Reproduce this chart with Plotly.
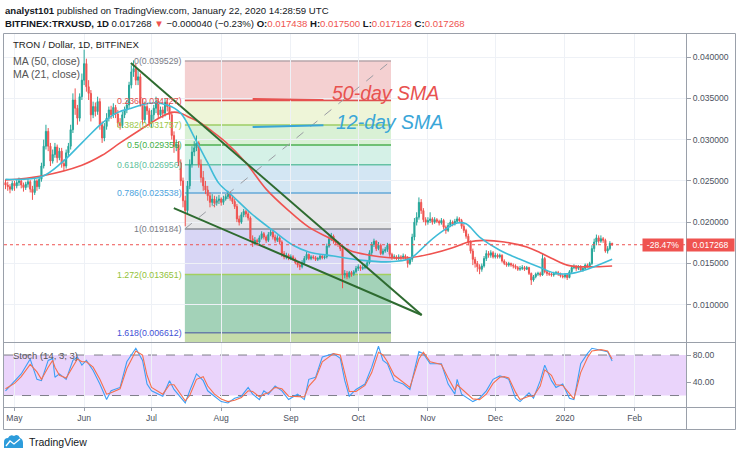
import plotly.graph_objects as go
import pandas as pd

W, H = 740, 457


def px(x):
    return x / W


def py(y):
    return 1 - y / H


# ---------------- data ----------------
date_start, date_end = "2019-04-27", "2020-01-22"

opens = [
    .0248, .0245, .0243, .0240,
    .0247, .0244, .0248, .0250, .0245, .0242, .0246, .0249, .0240, .0236, .0250, .0243, .0252, .0268, .0292, .0310,
    .0292, .0274, .0282, .0291, .0278, .0286, .0271, .0268, .0284, .0292, .0312, .0348, .0338, .0326, .0352,
    .0372, .0392, .0364, .0356, .0330, .0340, .0334, .0346, .0318, .0302, .0316, .0326, .0336, .0330, .0339,
    .0331, .0320, .0317, .0330, .0336, .0342, .0366, .0382, .0386, .0372, .0376, .0344, .0324, .0340, .0335,
    .0320, .0330, .0338, .0346, .0330, .0336, .0332, .0345, .0340, .0330, .0305, .0292, .0294, .0272, .0250,
    .0226, .0214, .0244, .0270, .0285, .0290, .0296, .0270, .0254, .0244, .0239, .0232, .0224, .0228, .0223, .0226,
    .0228, .0224, .0228, .0231, .0235, .0229, .0225, .0219, .0204, .0200, .0209, .0213, .0210, .0205, .0180,
    .0174, .0178, .0176, .0181, .0186, .0182, .0178, .0185, .0188, .0182, .0178, .0181, .0176, .0162, .0158, .0160,
    .0157, .0158, .0155, .0151, .0148, .0146, .0151, .0156, .0161, .0156, .0158, .0157, .0155, .0156, .0159,
    .0157, .0158, .0171, .0180, .0183, .0177, .0175, .0173, .0168, .0136, .0138, .0134, .0139, .0137, .0140,
    .0144, .0146, .0144, .0145, .0147, .0151, .0163, .0173, .0177, .0168, .0172, .0162, .0165, .0167, .0172,
    .0161, .0157, .0158, .0156, .0158, .0157, .0159, .0157, .0150, .0155, .0182, .0200, .0206, .0224, .0214, .0203,
    .0200, .0202, .0204, .0200, .0203, .0201, .0199, .0202, .0194, .0190, .0196, .0200, .0198, .0201, .0204,
    .0202, .0195, .0190, .0183, .0176, .0165, .0155, .0150, .0146, .0143, .0147, .0156, .0162, .0160, .0163,
    .0158, .0160, .0158, .0160, .0153, .0150, .0148, .0150, .0148, .0147, .0145, .0143, .0144, .0145, .0143,
    .0145, .0138, .0130, .0134, .0137, .0138, .0136, .0156, .0140, .0138, .0137, .0136, .0138, .0139, .0137, .0135,
    .0134, .0136, .0133, .0140, .0145, .0146, .0144, .0146, .0142, .0144, .0148, .0147, .0150, .0168, .0176,
    .0181, .0177, .0180, .0178, .0165, .0168, .017438,
]
highs = [
    .0252, .0249, .0246, .0250,
    .0250, .0252, .0254, .0252, .0248, .0249, .0253, .0251, .0244, .0253, .0252, .0256, .0272, .0300, .0318, .0314,
    .0296, .0288, .0296, .0294, .0290, .0290, .0276, .0288, .0296, .0318, .0356, .0362, .0342, .0356, .0380,
    .0409, .0398, .0372, .0360, .0346, .0345, .0352, .0350, .0322, .0320, .0332, .0340, .0341, .0344, .0342,
    .0336, .0326, .0334, .0340, .0348, .0370, .0390, .0396, .0392, .0384, .0380, .0350, .0346, .0344, .0338,
    .0336, .0342, .0352, .0350, .0340, .0340, .0350, .0350, .0344, .0334, .0310, .0300, .0298, .0276, .0254,
    .0232, .0250, .0276, .0292, .0298, .0305, .0298, .0276, .0262, .0250, .0244, .0236, .0234, .0232, .0231, .0233,
    .0230, .0232, .0234, .0238, .0237, .0232, .0228, .0222, .0208, .0212, .0216, .0215, .0213, .0207, .0184,
    .0182, .0180, .0184, .0189, .0188, .0184, .0188, .0191, .0190, .0185, .0184, .0183, .0178, .0165, .0163, .0162,
    .0161, .0160, .0157, .0153, .0150, .0154, .0159, .0164, .0162, .0160, .0160, .0159, .0158, .0161, .0160,
    .0160, .0174, .0184, .0187, .0185, .0179, .0177, .0175, .0170, .0142, .0141, .0141, .0141, .0142, .0147,
    .0149, .0148, .0148, .0150, .0154, .0166, .0176, .0180, .0178, .0176, .0174, .0168, .0170, .0175, .0174,
    .0163, .0161, .0160, .0161, .0160, .0162, .0161, .0159, .0158, .0186, .0205, .0212, .0230, .0228, .0217, .0206,
    .0206, .0212, .0206, .0206, .0205, .0203, .0205, .0204, .0196, .0199, .0203, .0202, .0204, .0207, .0206,
    .0204, .0198, .0192, .0186, .0178, .0168, .0158, .0153, .0149, .0150, .0159, .0166, .0165, .0166, .0165,
    .0163, .0162, .0162, .0161, .0155, .0152, .0152, .0151, .0150, .0149, .0147, .0147, .0148, .0147, .0147,
    .0146, .0139, .0136, .0139, .0140, .0140, .0162, .0158, .0142, .0140, .0139, .0140, .0141, .0141, .0139, .0137,
    .0138, .0138, .0142, .0147, .0149, .0148, .0148, .0148, .0146, .0150, .0150, .0152, .0172, .0180, .0185,
    .0184, .0184, .0182, .0180, .0171, .0177, .0175,
]
lows = [
    .0240, .0238, .0235, .0238,
    .0238, .0241, .0244, .0241, .0237, .0239, .0242, .0236, .0227, .0233, .0238, .0240, .0249, .0265, .0288, .0286,
    .0268, .0271, .0278, .0272, .0275, .0266, .0262, .0265, .0280, .0288, .0308, .0330, .0318, .0322, .0348,
    .0366, .0358, .0348, .0322, .0326, .0328, .0330, .0312, .0296, .0298, .0312, .0322, .0325, .0326, .0326,
    .0315, .0312, .0314, .0326, .0332, .0338, .0362, .0376, .0366, .0366, .0340, .0318, .0320, .0330, .0316,
    .0314, .0324, .0332, .0326, .0326, .0326, .0328, .0334, .0324, .0300, .0284, .0286, .0268, .0244, .0218,
    .0195, .0210, .0240, .0266, .0280, .0286, .0266, .0248, .0238, .0234, .0226, .0218, .0220, .0218, .0220, .0222,
    .0220, .0221, .0226, .0228, .0226, .0222, .0216, .0200, .0196, .0198, .0206, .0206, .0202, .0176, .0170,
    .0172, .0172, .0174, .0179, .0179, .0175, .0176, .0183, .0179, .0175, .0176, .0173, .0158, .0155, .0155, .0154,
    .0154, .0153, .0149, .0145, .0142, .0144, .0149, .0154, .0154, .0154, .0155, .0153, .0153, .0154, .0155,
    .0155, .0156, .0169, .0177, .0174, .0172, .0170, .0165, .0120, .0132, .0131, .0132, .0134, .0135, .0138,
    .0141, .0141, .0142, .0143, .0145, .0149, .0160, .0170, .0165, .0166, .0160, .0160, .0163, .0164, .0158,
    .0154, .0155, .0154, .0154, .0154, .0155, .0154, .0145, .0148, .0152, .0178, .0196, .0203, .0210, .0200, .0196,
    .0197, .0199, .0197, .0198, .0199, .0196, .0197, .0191, .0186, .0188, .0194, .0195, .0196, .0199, .0199,
    .0192, .0187, .0180, .0172, .0162, .0148, .0145, .0140, .0137, .0140, .0145, .0153, .0157, .0157, .0156,
    .0156, .0156, .0156, .0151, .0148, .0146, .0146, .0146, .0144, .0143, .0141, .0141, .0142, .0141, .0142,
    .0136, .0124, .0128, .0132, .0135, .0134, .0135, .0138, .0135, .0135, .0134, .0134, .0136, .0135, .0133, .0132,
    .0132, .0130, .0132, .0138, .0143, .0141, .0142, .0140, .0140, .0142, .0145, .0145, .0148, .0164, .0172,
    .0174, .0175, .0175, .0163, .0162, .0166, .017128,
]
closes = [
    .0245, .0243, .0240, .0247,
    .0244, .0248, .0250, .0245, .0242, .0246, .0249, .0240, .0236, .0250, .0243, .0252, .0268, .0292, .0310, .0292,
    .0274, .0282, .0291, .0278, .0286, .0271, .0268, .0284, .0292, .0312, .0348, .0338, .0326, .0352, .0372,
    .0392, .0364, .0356, .0330, .0340, .0334, .0346, .0318, .0302, .0316, .0326, .0336, .0330, .0339, .0331,
    .0320, .0317, .0330, .0336, .0342, .0366, .0382, .0386, .0372, .0376, .0344, .0324, .0340, .0335, .0320,
    .0330, .0338, .0346, .0330, .0336, .0332, .0345, .0340, .0330, .0305, .0292, .0294, .0272, .0250, .0226,
    .0214, .0244, .0270, .0285, .0290, .0296, .0270, .0254, .0244, .0239, .0232, .0224, .0228, .0223, .0226, .0228,
    .0224, .0228, .0231, .0235, .0229, .0225, .0219, .0204, .0200, .0209, .0213, .0210, .0205, .0180, .0174,
    .0178, .0176, .0181, .0186, .0182, .0178, .0185, .0188, .0182, .0178, .0181, .0176, .0162, .0158, .0160, .0157,
    .0158, .0155, .0151, .0148, .0146, .0151, .0156, .0161, .0156, .0158, .0157, .0155, .0156, .0159, .0157,
    .0158, .0171, .0180, .0183, .0177, .0175, .0173, .0168, .0136, .0138, .0134, .0139, .0137, .0140, .0144,
    .0146, .0144, .0145, .0147, .0151, .0163, .0173, .0177, .0168, .0172, .0162, .0165, .0167, .0172, .0161,
    .0157, .0158, .0156, .0158, .0157, .0159, .0157, .0150, .0155, .0182, .0200, .0206, .0224, .0214, .0203, .0200,
    .0202, .0204, .0200, .0203, .0201, .0199, .0202, .0194, .0190, .0196, .0200, .0198, .0201, .0204, .0202,
    .0195, .0190, .0183, .0176, .0165, .0155, .0150, .0146, .0143, .0147, .0156, .0162, .0160, .0163, .0158,
    .0160, .0158, .0160, .0153, .0150, .0148, .0150, .0148, .0147, .0145, .0143, .0144, .0145, .0143, .0145,
    .0138, .0130, .0134, .0137, .0138, .0136, .0156, .0140, .0138, .0137, .0136, .0138, .0139, .0137, .0135, .0134,
    .0136, .0133, .0140, .0145, .0146, .0144, .0146, .0142, .0144, .0148, .0147, .0150, .0168, .0176, .0181,
    .0177, .0180, .0178, .0165, .0168, .017438, .017268,
]

ma50_dates = ["2019-04-27", "2019-05-13", "2019-05-31", "2019-06-09", "2019-06-17", "2019-06-26",
              "2019-07-05", "2019-07-10", "2019-07-14", "2019-07-17", "2019-07-23", "2019-07-27",
              "2019-08-03", "2019-08-12", "2019-08-21", "2019-08-31", "2019-09-09", "2019-09-20",
              "2019-09-27", "2019-10-06", "2019-10-15", "2019-10-24", "2019-11-03", "2019-11-12",
              "2019-11-19", "2019-11-26", "2019-12-05", "2019-12-15", "2019-12-21", "2019-12-27",
              "2020-01-02", "2020-01-08", "2020-01-15", "2020-01-22"]
ma50_vals = [0.0251, 0.0256, 0.0269, 0.0281, 0.0296, 0.0312, 0.0327, 0.0333, 0.0332, 0.0328, 0.0320, 0.0312,
             0.0297, 0.0272, 0.0240, 0.0214, 0.0194, 0.0178, 0.0166, 0.0160, 0.0157, 0.0157, 0.0162, 0.0169,
             0.0176, 0.0178, 0.0176, 0.0170, 0.0163, 0.0155, 0.0148, 0.0146, 0.0146, 0.0147]

ma21_dates = ["2019-04-27", "2019-05-13", "2019-05-22", "2019-05-31", "2019-06-09", "2019-06-16",
              "2019-06-22", "2019-06-30", "2019-07-08", "2019-07-14", "2019-07-20", "2019-07-26",
              "2019-07-31", "2019-08-06", "2019-08-15", "2019-08-24", "2019-09-02", "2019-09-09",
              "2019-09-20", "2019-10-02", "2019-10-15", "2019-10-24", "2019-10-29", "2019-11-01",
              "2019-11-08", "2019-11-14", "2019-11-18", "2019-11-24", "2019-12-03", "2019-12-12",
              "2019-12-21", "2019-12-28", "2020-01-04", "2020-01-11", "2020-01-22"]
ma21_vals = [0.0252, 0.0255, 0.0272, 0.0296, 0.0320, 0.0333, 0.0338, 0.0344, 0.0342, 0.0332, 0.0303, 0.0272,
             0.0247, 0.0232, 0.0209, 0.0190, 0.0172, 0.0164, 0.0159, 0.0154, 0.0152, 0.0156, 0.0167, 0.0175,
             0.0190, 0.0199, 0.0198, 0.0182, 0.0166, 0.0155, 0.0145, 0.0138, 0.0138, 0.0143, 0.0155]

stoch_dates = ["2019-04-27", "2019-05-01", "2019-05-04", "2019-05-08", "2019-05-11", "2019-05-13", "2019-05-16",
               "2019-05-18", "2019-05-19", "2019-05-21", "2019-05-24", "2019-05-27", "2019-05-29", "2019-05-31",
               "2019-06-02", "2019-06-05", "2019-06-08", "2019-06-11", "2019-06-13", "2019-06-17", "2019-06-20",
               "2019-06-24", "2019-06-27", "2019-06-29", "2019-07-01", "2019-07-06", "2019-07-09", "2019-07-11",
               "2019-07-14", "2019-07-16", "2019-07-18", "2019-07-21", "2019-07-24", "2019-07-26", "2019-07-29",
               "2019-08-01", "2019-08-04", "2019-08-07", "2019-08-10", "2019-08-13", "2019-08-15", "2019-08-18",
               "2019-08-20", "2019-08-22", "2019-08-25", "2019-08-28", "2019-08-31", "2019-09-04", "2019-09-07",
               "2019-09-09", "2019-09-12", "2019-09-15", "2019-09-20", "2019-09-23", "2019-09-25", "2019-09-27",
               "2019-09-30", "2019-10-04", "2019-10-07", "2019-10-10", "2019-10-12", "2019-10-14", "2019-10-17",
               "2019-10-21", "2019-10-24", "2019-10-28", "2019-10-30", "2019-11-02", "2019-11-07", "2019-11-10",
               "2019-11-13", "2019-11-14", "2019-11-16", "2019-11-21", "2019-11-24", "2019-11-27", "2019-11-30",
               "2019-12-03", "2019-12-05", "2019-12-07", "2019-12-10", "2019-12-12", "2019-12-16", "2019-12-18",
               "2019-12-21", "2019-12-23", "2019-12-26", "2019-12-28", "2019-12-31", "2020-01-03", "2020-01-05",
               "2020-01-08", "2020-01-11", "2020-01-13", "2020-01-17", "2020-01-20", "2020-01-22"]
stoch_k = [27, 42, 52, 74, 44, 42, 72, 75, 47, 52, 44, 72, 77, 65, 72, 57, 37, 14, 27, 32,
           70, 90, 72, 37, 27, 19, 42, 29, 16, 9, 27, 52, 42, 27, 19, 11, 9, 16, 19, 32,
           22, 14, 27, 22, 34, 27, 14, 22, 14, 44, 47, 77, 82, 75, 42, 19, 29, 37, 62, 93,
           72, 67, 42, 37, 29, 85, 82, 67, 67, 37, 22, 44, 22, 11, 16, 27, 44, 49, 47, 44,
           16, 11, 24, 16, 42, 65, 42, 32, 37, 16, 14, 67, 82, 90, 87, 85, 71]
stoch_d = [30, 38, 48, 66, 55, 44, 62, 72, 62, 50, 46, 62, 74, 70, 70, 62, 44, 22, 24, 30,
           60, 86, 80, 50, 32, 22, 36, 36, 22, 12, 20, 44, 48, 34, 22, 15, 11, 13, 17, 27,
           26, 18, 22, 24, 32, 30, 19, 19, 18, 34, 45, 70, 82, 80, 55, 26, 26, 35, 54, 84,
           80, 70, 50, 39, 32, 74, 84, 70, 66, 46, 28, 36, 30, 15, 14, 22, 38, 47, 48, 46,
           25, 14, 19, 19, 34, 58, 50, 36, 35, 22, 15, 54, 76, 86, 88, 86, 74]

fib_ratios = ["0", "0.236", "0.382", "0.5", "0.618", "0.786", "1", "1.272", "1.618"]
fib_prices = [0.039529, 0.034727, 0.031757, 0.029356, 0.026956, 0.023538, 0.019184, 0.013651, 0.006612]
fib_start, fib_end = "2019-07-15 20:00", "2019-10-15 14:00"

trend_upper_x = ["2019-06-21 19:00", "2019-10-29 06:00"]
trend_upper_y = [0.03927, 0.00876]
trend_lower_x = ["2019-07-10 22:00", "2019-10-29 06:00"]
trend_lower_y = [0.02171, 0.00876]

sma50_note_x = ["2019-08-15", "2019-09-15 12:00"]
sma50_note_y = [0.03491, 0.03480]
sma12_note_x = ["2019-08-15", "2019-09-15 12:00"]
sma12_note_y = [0.03152, 0.03173]

last_price = 0.017268
change_pct = "-28.47%"

month_ticks = ["2019-05-01", "2019-06-01", "2019-07-01", "2019-08-01", "2019-09-01", "2019-10-01",
               "2019-11-01", "2019-12-01", "2020-01-01", "2020-02-01"]
month_labels = ["May", "Jun", "Jul", "Aug", "Sep", "Oct", "Nov", "Dec", "2020", "Feb"]
price_ticks = [0.010, 0.015, 0.020, 0.025, 0.030, 0.035, 0.040]
stoch_ticks = [40, 80]

# ---------------- styles ----------------
dates = pd.date_range(date_start, date_end, freq="D")
assert len(dates) == len(opens) == len(highs) == len(lows) == len(closes), (
    len(dates), len(opens), len(highs), len(lows), len(closes))

FONT = "Liberation Sans, Arial, sans-serif"
UP, DN = "#26a69a", "#ef5350"
X_RANGE = ["2019-04-26 08:00", "2020-02-23 21:00"]
Y_RANGE = [0.00549, 0.04291]
S_RANGE = [3, 97.8]
XD = [px(4), px(686)]

fib_fill = ["#f4d0d1", "#eef5d8", "#d9f1d5", "#d5f1e7", "#d3e6f3", "#e6e6e8", "#d8d6f5", "#a3d2b8"]
fib_bottom_fill = "#c5dcaa"
fib_line = ["#b7a6aa", "#e0504f", "#9ccc65", "#4caf50", "#66c2a5", "#64a8d8", "#8a8d94", "#a2d060", "#6a7fa8"]
fib_text = ["#787b86", "#e0504f", "#9cc84a", "#43b047", "#5fbf9c", "#4da3dd", "#787b86", "#93c23a", "#3f51d5"]

fig = go.Figure()
fig.add_trace(go.Candlestick(
    x=dates, open=opens, high=highs, low=lows, close=closes,
    increasing=dict(line=dict(color=UP, width=1), fillcolor=UP),
    decreasing=dict(line=dict(color=DN, width=1), fillcolor=DN),
    whiskerwidth=0, xaxis="x", yaxis="y", hoverinfo="skip", showlegend=False))
fig.add_trace(go.Scatter(x=ma50_dates, y=ma50_vals, mode="lines", xaxis="x", yaxis="y",
                         line=dict(color="#ef5350", width=1.6, shape="spline"), hoverinfo="skip"))
fig.add_trace(go.Scatter(x=ma21_dates, y=ma21_vals, mode="lines", xaxis="x", yaxis="y",
                         line=dict(color="#3fbcd8", width=1.6, shape="spline"), hoverinfo="skip"))
fig.add_trace(go.Scatter(x=stoch_dates, y=stoch_k, mode="lines", xaxis="x2", yaxis="y2",
                         line=dict(color="#3d9ff5", width=1.1), hoverinfo="skip"))
fig.add_trace(go.Scatter(x=stoch_dates, y=stoch_d, mode="lines", xaxis="x2", yaxis="y2",
                         line=dict(color="#f5704e", width=1.1), hoverinfo="skip"))

shapes = []
# fib bands
for i in range(len(fib_prices) - 1):
    shapes.append(dict(type="rect", xref="x", yref="y", x0=fib_start, x1=fib_end,
                       y0=fib_prices[i + 1], y1=fib_prices[i], fillcolor=fib_fill[i],
                       line=dict(width=0), layer="below"))
shapes.append(dict(type="rect", xref="x", yref="y", x0=fib_start, x1=fib_end,
                   y0=Y_RANGE[0], y1=fib_prices[-1], fillcolor=fib_bottom_fill,
                   line=dict(width=0), layer="below"))
for i, p in enumerate(fib_prices):
    shapes.append(dict(type="line", xref="x", yref="y", x0=fib_start, x1=fib_end, y0=p, y1=p,
                       line=dict(color=fib_line[i], width=1.5), layer="below"))
# fib diagonal
shapes.append(dict(type="line", xref="x", yref="y", x0=fib_start, x1=fib_end,
                   y0=fib_prices[6], y1=fib_prices[0],
                   line=dict(color="#9a9ca3", width=1, dash="dash"), layer="above"))
# trendlines
for tx, ty in ((trend_upper_x, trend_upper_y), (trend_lower_x, trend_lower_y)):
    shapes.append(dict(type="line", xref="x", yref="y", x0=tx[0], x1=tx[1], y0=ty[0], y1=ty[1],
                       line=dict(color="#2e6b30", width=2), layer="above"))
# note lines
shapes.append(dict(type="line", xref="x", yref="y", x0=sma50_note_x[0], x1=sma50_note_x[1],
                   y0=sma50_note_y[0], y1=sma50_note_y[1], line=dict(color="#e8524f", width=2)))
shapes.append(dict(type="line", xref="x", yref="y", x0=sma12_note_x[0], x1=sma12_note_x[1],
                   y0=sma12_note_y[0], y1=sma12_note_y[1], line=dict(color="#3aa6d8", width=2)))
# last price dotted line
shapes.append(dict(type="line", xref="x domain", yref="y", x0=0, x1=1, y0=last_price, y1=last_price,
                   line=dict(color="#ef5350", width=1, dash="dot"), layer="above"))
# stoch band
shapes.append(dict(type="rect", xref="x2 domain", yref="y2", x0=0, x1=1, y0=20, y1=80,
                   fillcolor="#ead4fb", line=dict(width=0), layer="below"))
for lv in (20, 80):
    shapes.append(dict(type="line", xref="x2 domain", yref="y2", x0=0, x1=1, y0=lv, y1=lv,
                       line=dict(color="#7e7e8a", width=1, dash="dash"), layer="below"))
# frame
FR = "#9aa0aa"
shapes.append(dict(type="rect", xref="paper", yref="paper", x0=px(3.5), x1=px(735.5),
                   y0=py(429.5), y1=py(33.5), line=dict(color=FR, width=1)))
shapes.append(dict(type="line", xref="paper", yref="paper", x0=px(686.5), x1=px(686.5),
                   y0=py(429.5), y1=py(33.5), line=dict(color=FR, width=1)))
for yy in (342.5, 407.5):
    shapes.append(dict(type="line", xref="paper", yref="paper", x0=px(3.5), x1=px(735.5),
                       y0=py(yy), y1=py(yy), line=dict(color=FR, width=1)))
# logo
logo = (f"M {px(4)},{py(448)} L {px(4)},{py(442)} Q {px(4)},{py(438)} {px(8)},{py(438)} "
        f"Q {px(10)},{py(434)} {px(14)},{py(436)} Q {px(18)},{py(433)} {px(20)},{py(438)} "
        f"Q {px(23)},{py(439)} {px(23)},{py(443)} L {px(23)},{py(448)} Z")
shapes.append(dict(type="path", xref="paper", yref="paper", path=logo,
                   fillcolor="#2d9cdb", line=dict(width=0)))
zig = (f"M {px(6)},{py(446)} L {px(10)},{py(441)} L {px(14)},{py(444)} L {px(20)},{py(439)}")
shapes.append(dict(type="path", xref="paper", yref="paper", path=zig,
                   line=dict(color="white", width=1.3)))

ann = []


def txt(x, y, text, size=10.5, color="#131722", xanchor="left", **kw):
    ann.append(dict(xref="paper", yref="paper", x=px(x), y=py(y), text=text, showarrow=False,
                    xanchor=xanchor, yanchor="middle", font=dict(size=size, color=color, family=FONT), **kw))


R = "#ef5350"
txt(3, 10, "<b>analyst101</b> published on TradingView.com, January 22, 2020 14:28:59 UTC", 9.6)
txt(3, 23, f"<b>BITFINEX:TRXUSD, 1D</b> 0.017268 <span style='color:{R}'>▼</span> −0.000040 (−0.23%) "
           f"<b>O:</b><span style='color:{R}'>0.017438</span> <b>H:</b><span style='color:{R}'>0.017500</span> "
           f"<b>L:</b><span style='color:{R}'>0.017128</span> <b>C:</b><span style='color:{R}'>0.017268</span>", 9.6)
txt(11, 45, "TRON / Dollar, 1D, BITFINEX", 9.6, "#222")
txt(11, 61, "MA (50, close)", 10.5, "#555")
txt(11, 74, "MA (21, close)", 10.5, "#555")
txt(11, 355, "Stoch (14, 3, 3)", 9.5, "#555")
txt(27, 442, "TradingView", 10.5, "#131722")

for i, p in enumerate(fib_prices):
    ann.append(dict(xref="x", yref="y", x=fib_start, y=p, xanchor="right", yanchor="middle",
                    xshift=-1, text=f"{fib_ratios[i]}({p:.6f})", showarrow=False,
                    font=dict(size=8.8, color=fib_text[i], family=FONT)))

ann.append(dict(xref="x", yref="y", x="2019-09-18 12:00", y=0.03564, xanchor="left", yanchor="middle",
                text="<i>50-day SMA</i>", showarrow=False,
                font=dict(size=19.5, color="#e8524f", family=FONT)))
ann.append(dict(xref="x", yref="y", x="2019-09-20 08:00", y=0.03213, xanchor="left", yanchor="middle",
                text="<i>12-day SMA</i>", showarrow=False,
                font=dict(size=19.5, color="#3aa6d8", family=FONT)))

# price labels
ann.append(dict(xref="paper", yref="y", x=px(686), y=last_price, xanchor="left", yanchor="middle",
                text=f"{last_price:.6f}", showarrow=False, bgcolor=R, width=47, height=12, borderpad=0,
                font=dict(size=8.6, color="white", family=FONT)))
ann.append(dict(xref="paper", yref="y", x=px(684), y=last_price, xanchor="right", yanchor="middle",
                text=change_pct, showarrow=False, bgcolor=R, width=40, height=12, borderpad=0,
                font=dict(size=8.6, color="white", family=FONT)))

GRID = "#eef1f6"
tickfont = dict(size=8.6, color="#4c525e", family=FONT)
fig.update_layout(
    width=W, height=H, margin=dict(l=0, r=0, t=0, b=0),
    paper_bgcolor="white", plot_bgcolor="white", showlegend=False,
    font=dict(family=FONT),
    shapes=shapes, annotations=ann, hovermode=False, dragmode=False,
    xaxis=dict(domain=XD, anchor="y", range=X_RANGE, type="date", tickvals=month_ticks,
               showticklabels=False, ticks="", showgrid=True, gridcolor=GRID, zeroline=False,
               rangeslider=dict(visible=False), showline=False),
    yaxis=dict(domain=[py(342), py(33)], anchor="x", range=Y_RANGE, side="right",
               tickvals=price_ticks, tickformat=".6f", ticks="outside", ticklen=4,
               tickcolor="#9aa0aa", tickfont=tickfont, showgrid=True, gridcolor=GRID,
               zeroline=False, showline=False),
    xaxis2=dict(domain=XD, anchor="y2", range=X_RANGE, type="date", tickvals=month_ticks,
                ticktext=month_labels, ticks="outside", ticklen=3, tickcolor="#9aa0aa",
                tickfont=tickfont, showgrid=True, gridcolor=GRID, zeroline=False, showline=False),
    yaxis2=dict(domain=[py(407), py(343)], anchor="x2", range=S_RANGE, side="right",
                tickvals=stoch_ticks, ticktext=["40.00", "80.00"], ticks="outside", ticklen=4,
                tickcolor="#9aa0aa", tickfont=tickfont, showgrid=False, zeroline=False, showline=False),
)

fig.write_html("out.html", config={"displayModeBar": False, "staticPlot": True},
               post_script="document.body.style.margin='0px';")
